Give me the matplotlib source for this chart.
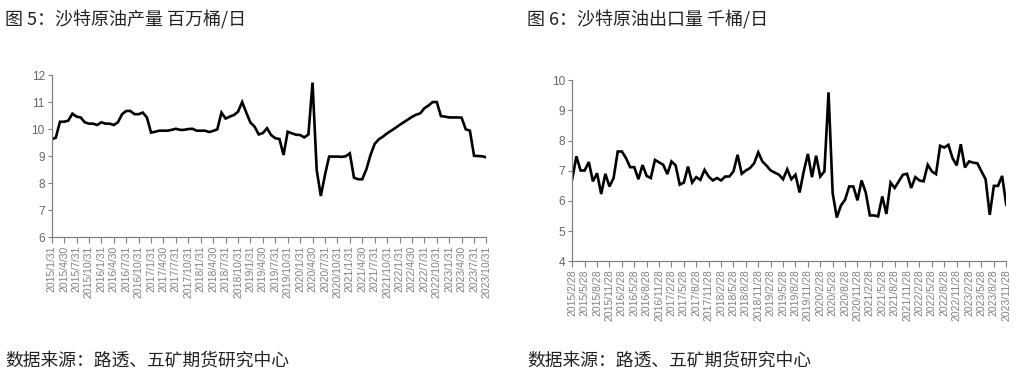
import matplotlib
matplotlib.use("Agg")
import matplotlib.pyplot as plt

plt.rcParams['font.family'] = ['Noto Sans CJK SC', 'DejaVu Sans']

# monthly data, 2015/1 - 2023/10 (production, mb/d)
production = [
    9.63, 9.69, 10.28, 10.28, 10.32, 10.58, 10.47, 10.44, 10.26, 10.21, 10.21, 10.16,
    10.26, 10.21, 10.21, 10.16, 10.26, 10.56, 10.68, 10.68, 10.56, 10.56, 10.62, 10.44,
    9.88, 9.91, 9.95, 9.95, 9.95, 9.98, 10.02, 9.98, 9.98, 10.01, 10.02, 9.95,
    9.95, 9.95, 9.90, 9.94, 10.00, 10.62, 10.40, 10.47, 10.53, 10.65, 11.01, 10.62,
    10.25, 10.10, 9.81, 9.86, 10.04, 9.79, 9.67, 9.64, 9.05, 9.91, 9.85, 9.80,
    9.79, 9.70, 9.81, 11.73, 8.49, 7.53, 8.31, 8.99, 8.99, 8.99, 8.98, 9.00,
    9.11, 8.21, 8.15, 8.15, 8.52, 9.05, 9.46, 9.63, 9.73, 9.85, 9.95, 10.05,
    10.16, 10.26, 10.36, 10.46, 10.54, 10.59, 10.78, 10.88, 11.01, 11.01, 10.49, 10.47,
    10.44, 10.44, 10.44, 10.43, 10.00, 9.95, 9.02, 9.01, 9.00, 8.96,
]

# monthly data, 2015/2 - 2023/11 (exports, as shown)
exports = [
    6.73, 7.48, 7.01, 7.01, 7.29, 6.65, 6.92, 6.23, 6.90, 6.48, 6.76, 7.64,
    7.64, 7.42, 7.12, 7.12, 6.72, 7.19, 6.83, 6.76, 7.36, 7.28, 7.20, 6.89,
    7.31, 7.18, 6.54, 6.61, 7.14, 6.61, 6.79, 6.70, 7.03, 6.81, 6.68, 6.76,
    6.68, 6.81, 6.81, 6.98, 7.53, 6.90, 7.01, 7.09, 7.25, 7.61, 7.31, 7.17,
    7.01, 6.94, 6.87, 6.72, 7.05, 6.72, 6.87, 6.28, 6.98, 7.56, 6.79, 7.50,
    6.81, 6.98, 9.60, 6.26, 5.45, 5.85, 6.04, 6.48, 6.48, 6.02, 6.68, 6.28,
    5.52, 5.52, 5.49, 6.15, 5.57, 6.61, 6.43, 6.65, 6.87, 6.90, 6.43, 6.79,
    6.68, 6.65, 7.20, 6.98, 6.89, 7.83, 7.77, 7.86, 7.42, 7.18, 7.88, 7.11,
    7.31, 7.27, 7.25, 6.98, 6.72, 5.54, 6.50, 6.50, 6.83, 5.87,
]

month_days = {1: 31, 4: 30, 7: 31, 10: 31}
prod_ticks = ['%d/%d/%d' % (y, m, month_days[m]) for y in range(2015, 2024) for m in (1, 4, 7, 10)]
exp_ticks = ['%d/%d/28' % (y, m) for y in range(2015, 2024) for m in (2, 5, 8, 11)]

titles = ['图 5：沙特原油产量 百万桶/日', '图 6：沙特原油出口量 千桶/日']
source = '数据来源：路透、五矿期货研究中心'

fig = plt.figure(figsize=(10.19, 3.8), dpi=100)

ax1 = fig.add_axes([0.0507, 0.3755, 0.4267, 0.4263])
ax2 = fig.add_axes([0.5616, 0.3124, 0.4259, 0.4763])


def style(ax, data, ticks, ylim):
    x = list(range(len(data)))
    ax.plot(x, data, color='black', linewidth=1.9, solid_joinstyle='miter')
    ax.set_xlim(0, len(data) - 1)
    ax.set_ylim(*ylim)
    ax.set_yticks(range(ylim[0], ylim[1] + 1))
    ax.set_xticks(range(0, 3 * len(ticks), 3))
    ax.set_xticklabels(ticks, rotation=90, family=['Liberation Sans', 'DejaVu Sans'],
                       fontsize=7.5, color='#666666')
    for lab in ax.get_yticklabels():
        lab.set_family(['Liberation Sans', 'DejaVu Sans'])
    ax.tick_params(axis='y', labelsize=8.5, colors='#808080', labelcolor='#666666',
                   length=3, width=0.8, pad=2)
    ax.tick_params(axis='x', colors='#808080', length=4, width=0.8, pad=2)
    for s in ('top', 'right'):
        ax.spines[s].set_visible(False)
    for s in ('left', 'bottom'):
        ax.spines[s].set_color('#808080')
        ax.spines[s].set_linewidth(0.9)


style(ax1, production, prod_ticks, (6, 12))
style(ax2, exports, exp_ticks, (4, 10))

fig.text(5 / 1019, 1 - 20 / 380, titles[0], fontsize=13, color='#222222', va='center')
fig.text(527 / 1019, 1 - 20 / 380, titles[1], fontsize=13, color='#222222', va='center')
fig.text(5 / 1019, 1 - 360 / 380, source, fontsize=12.8, color='#222222', va='center')
fig.text(527 / 1019, 1 - 360 / 380, source, fontsize=12.8, color='#222222', va='center')

fig.savefig('out.png', dpi=100)
